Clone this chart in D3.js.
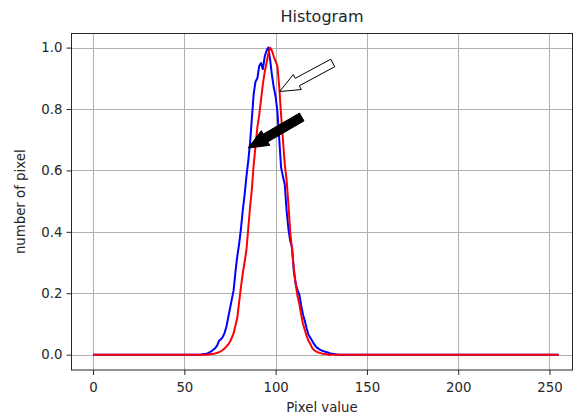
<!DOCTYPE html>
<html>
<head>
<meta charset="utf-8">
<script src="https://cdn.jsdelivr.net/npm/d3@7"></script>
<style>
  html, body { margin: 0; padding: 0; background: #fff; }
  svg { display: block; font-family: "DejaVu Sans", sans-serif; }
</style>
</head>
<body>
<svg id="chart" width="574" height="416"></svg>
<script>
// ---- data ----
const bins = [0, 58, 59, 60, 61, 62, 63, 64, 65, 66, 67, 68, 69, 70, 71, 72, 73, 74, 75, 76, 77, 78, 79,
  80, 81, 82, 83, 84, 85, 86, 87, 88, 89, 90, 91, 92, 93, 94, 95, 96, 97, 98, 99,
  100, 101, 102, 103, 104, 105, 106, 107, 108, 109, 110, 111, 112, 113, 114, 115, 116, 117, 118, 119,
  120, 121, 122, 123, 124, 125, 126, 127, 128, 129, 130, 131, 132, 133, 134, 135, 255];
const blueValues = [0, 0, 0, 0.001, 0.002, 0.003, 0.005, 0.008, 0.012, 0.017, 0.022, 0.03, 0.045, 0.05, 0.057, 0.07, 0.09, 0.12, 0.15, 0.18, 0.21, 0.27, 0.32,
  0.36, 0.41, 0.47, 0.52, 0.58, 0.63, 0.69, 0.77, 0.85, 0.89, 0.90, 0.94, 0.95, 0.93, 0.97, 0.99, 1.0, 0.96, 0.91, 0.87,
  0.84, 0.79, 0.70, 0.61, 0.58, 0.555, 0.47, 0.41, 0.37, 0.35, 0.27, 0.23, 0.21, 0.195, 0.16, 0.13, 0.11, 0.085, 0.065, 0.055,
  0.045, 0.035, 0.027, 0.021, 0.017, 0.014, 0.012, 0.01, 0.008, 0.006, 0.004, 0.003, 0.002, 0.001, 0, 0, 0];
const redValues = [0, 0, 0, 0, 0, 0, 0, 0.001, 0.002, 0.003, 0.004, 0.006, 0.008, 0.011, 0.015, 0.02, 0.026, 0.033, 0.042, 0.055, 0.07, 0.095, 0.12,
  0.17, 0.22, 0.265, 0.30, 0.34, 0.41, 0.48, 0.54, 0.62, 0.68, 0.74, 0.78, 0.83, 0.88, 0.92, 0.95, 0.98, 1.0, 0.99, 0.97,
  0.955, 0.94, 0.87, 0.78, 0.70, 0.62, 0.57, 0.49, 0.40, 0.34, 0.28, 0.23, 0.19, 0.165, 0.13, 0.10, 0.08, 0.06, 0.045, 0.035,
  0.022, 0.015, 0.011, 0.008, 0.006, 0.004, 0.003, 0.002, 0.001, 0, 0, 0, 0, 0, 0, 0, 0];
const xTicks = [0, 50, 100, 150, 200, 250];
const yTicks = [0.0, 0.2, 0.4, 0.6, 0.8, 1.0];
// annotation arrows: [tailX, tailY, tipX, tipY] in data units
const whiteArrow = [131.3, 0.95, 102.2, 0.857];
const blackArrow = [114.3, 0.774, 85.0, 0.673];
const titleText = "Histogram";
const xLabel = "Pixel value";
const yLabel = "number of pixel";

// ---- layout ----
const svg = d3.select("#chart");
const L = 71.5, T = 33.5, R = 572.5, B = 370;
const x = d3.scaleLinear().domain([-11.8, 262.6]).range([L, R]);
const y = d3.scaleLinear().domain([-0.05, 1.046]).range([B, T]);

// grid
const grid = svg.append("g");
grid.selectAll("line.vx").data(xTicks).join("line")
  .attr("x1", d => Math.round(x(d)) + 0.5).attr("x2", d => Math.round(x(d)) + 0.5)
  .attr("y1", T).attr("y2", B)
  .attr("stroke", "#b0b0b0").attr("stroke-width", 1);
grid.selectAll("line.hy").data(yTicks).join("line")
  .attr("y1", d => Math.round(y(d)) + 0.5).attr("y2", d => Math.round(y(d)) + 0.5)
  .attr("x1", L).attr("x2", R)
  .attr("stroke", "#b0b0b0").attr("stroke-width", 1);

// lines
const line = vals => d3.line().x((d, i) => x(bins[i])).y((d) => y(d))(vals);
svg.append("path").attr("d", line(blueValues))
  .attr("fill", "none").attr("stroke", "#0000ff").attr("stroke-width", 2).attr("stroke-linejoin", "round");
svg.append("path").attr("d", line(redValues))
  .attr("fill", "none").attr("stroke", "#ff0000").attr("stroke-width", 2).attr("stroke-linejoin", "round");

// axes
const xAxis = d3.axisBottom(x).tickValues(xTicks).tickSize(5).tickPadding(4).tickFormat(d3.format("d"));
const yAxis = d3.axisLeft(y).tickValues(yTicks).tickSize(5).tickPadding(4).tickFormat(d3.format(".1f"));
const gx = svg.append("g").attr("transform", `translate(0,${B})`).call(xAxis);
const gy = svg.append("g").attr("transform", `translate(${L},0)`).call(yAxis);
[gx, gy].forEach(g => {
  g.select(".domain").remove();
  g.selectAll("line").attr("stroke", "#262626").attr("stroke-width", 1);
  g.selectAll("text").attr("fill", "#262626").attr("font-size", "13.3px")
    .attr("font-family", "DejaVu Sans, sans-serif");
});
gx.selectAll("text").attr("dy", "0.95em");

// spines
svg.append("rect").attr("x", L).attr("y", T).attr("width", R - L).attr("height", B - T)
  .attr("fill", "none").attr("stroke", "#262626").attr("stroke-width", 1);

// arrows
function arrowPath(a, shaftW, headW, headL) {
  const tx = x(a[0]), ty = y(a[1]), px = x(a[2]), py = y(a[3]);
  const dx = px - tx, dy = py - ty, len = Math.hypot(dx, dy);
  const ux = dx / len, uy = dy / len, nx = -uy, ny = ux;
  const bx = px - ux * headL, by = py - uy * headL;
  const pts = [
    [tx + nx * shaftW / 2, ty + ny * shaftW / 2],
    [bx + nx * shaftW / 2, by + ny * shaftW / 2],
    [bx + nx * headW / 2, by + ny * headW / 2],
    [px, py],
    [bx - nx * headW / 2, by - ny * headW / 2],
    [bx - nx * shaftW / 2, by - ny * shaftW / 2],
    [tx - nx * shaftW / 2, ty - ny * shaftW / 2]
  ];
  return "M" + pts.map(p => p.join(",")).join("L") + "Z";
}
svg.append("path").attr("d", arrowPath(whiteArrow, 8.5, 17, 20))
  .attr("fill", "#fff").attr("stroke", "#000").attr("stroke-width", 1);
svg.append("path").attr("d", arrowPath(blackArrow, 9, 17, 20))
  .attr("fill", "#000").attr("stroke", "#000").attr("stroke-width", 1);

// labels
svg.append("text").attr("x", (L + R) / 2).attr("y", 22).attr("text-anchor", "middle")
  .attr("font-size", "16px").attr("fill", "#262626").text(titleText);
svg.append("text").attr("x", (L + R) / 2).attr("y", 412).attr("text-anchor", "middle")
  .attr("font-size", "13.3px").attr("fill", "#262626").text(xLabel);
svg.append("text").attr("transform", `translate(25,${(T + B) / 2}) rotate(-90)`).attr("text-anchor", "middle")
  .attr("font-size", "13.3px").attr("fill", "#262626").text(yLabel);
</script>
</body>
</html>
